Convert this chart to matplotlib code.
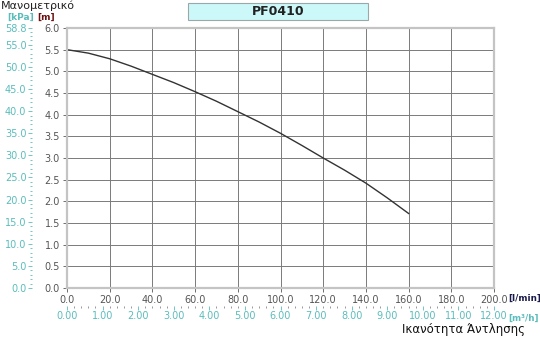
import matplotlib.pyplot as plt
from matplotlib.patches import Rectangle
from matplotlib.ticker import MultipleLocator, FixedLocator

# pump curve PF0410: flow [l/min] vs head [m]
flow_lpm = [0, 10, 20, 30, 40, 50, 60, 70, 80, 90, 100, 110, 120, 130, 140, 150, 160]
head_m = [5.50, 5.42, 5.29, 5.12, 4.93, 4.74, 4.53, 4.31, 4.07, 3.83, 3.57, 3.29, 3.00, 2.72, 2.42, 2.08, 1.72]

kpa_ticks = [0, 5, 10, 15, 20, 25, 30, 35, 40, 45, 50, 55, 58.8]
m3h_ticks = [0, 1, 2, 3, 4, 5, 6, 7, 8, 9, 10, 11, 12]

TEAL = "#5bbcbc"
GRAY = "#555555"

fig = plt.figure(figsize=(5.4, 3.38), dpi=100)
ax = fig.add_axes([67 / 540, 1 - 288 / 338, 427 / 540, 260 / 338])

ax.plot(flow_lpm, head_m, color="#333333", lw=1.0)
ax.set_xlim(0, 200)
ax.set_ylim(0, 6)
ax.xaxis.set_major_locator(MultipleLocator(20))
ax.yaxis.set_major_locator(MultipleLocator(0.5))
ax.grid(True, color="#7a7a7a", lw=0.7)
for s in ax.spines.values():
    s.set_color("#c4c4c4")
    s.set_linewidth(1.6)
ax.tick_params(labelsize=7, colors=GRAY, length=3, width=0.6, pad=2)
ax.xaxis.set_major_formatter(lambda v, p: f"{v:.1f}")
ax.yaxis.set_major_formatter(lambda v, p: f"{v:.1f}")

# kPa scale on the far left
kpa = ax.secondary_yaxis(-0.082, functions=(lambda m: m * 9.8, lambda k: k / 9.8))
kpa.yaxis.set_major_locator(FixedLocator(kpa_ticks))
kpa.yaxis.set_minor_locator(MultipleLocator(1))
kpa.yaxis.set_major_formatter(lambda v, p: f"{v:.1f}")
kpa.spines["left"].set_visible(False)
kpa.tick_params(which="major", labelsize=7, colors=TEAL, length=3, width=0.6, pad=1)
kpa.tick_params(which="minor", colors=TEAL, length=1.5, width=0.6)

# m3/h scale below the l/min axis
m3h = ax.secondary_xaxis(-0.069, functions=(lambda q: q * 0.06, lambda c: c / 0.06))
m3h.xaxis.set_major_locator(FixedLocator(m3h_ticks))
m3h.xaxis.set_minor_locator(MultipleLocator(0.2))
m3h.xaxis.set_major_formatter(lambda v, p: f"{v:.2f}")
m3h.spines["bottom"].set_visible(False)
m3h.tick_params(which="major", labelsize=7, colors=TEAL, length=3, width=0.6, pad=1)
m3h.tick_params(which="minor", colors="#888888", length=1.5, width=0.6)

# axis captions
fig.text(1 / 540, 1 - 6 / 338, "Μανομετρικό", fontsize=8, color="#222222", va="center", ha="left")
fig.text(7 / 540, 1 - 17 / 338, "[kPa]", fontsize=6.5, color=TEAL, va="center", ha="left", weight="bold")
fig.text(37 / 540, 1 - 17 / 338, "[m]", fontsize=6.5, color="#6b0f0f", va="center", ha="left", weight="bold")
fig.text(508 / 540, 1 - 298 / 338, "[l/min]", fontsize=6.3, color="#1a1a4a", va="center", ha="left", weight="bold")
fig.text(508 / 540, 1 - 318 / 338, "[m³/h]", fontsize=6.3, color=TEAL, va="center", ha="left", weight="bold")
fig.text(525 / 540, 1 - 330 / 338, "Ικανότητα Άντλησης", fontsize=8.5, color="#111111", va="center", ha="right")

# title box
fig.patches.append(Rectangle((188 / 540, 1 - 20 / 338), 180 / 540, 17 / 338,
                             transform=fig.transFigure, facecolor="#ccf8fa",
                             edgecolor="#9aa8aa", lw=0.8))
fig.text(278 / 540, 1 - 11.5 / 338, "PF0410", fontsize=9, weight="bold",
         color="#222222", ha="center", va="center")

fig.savefig("out.png", dpi=100)
